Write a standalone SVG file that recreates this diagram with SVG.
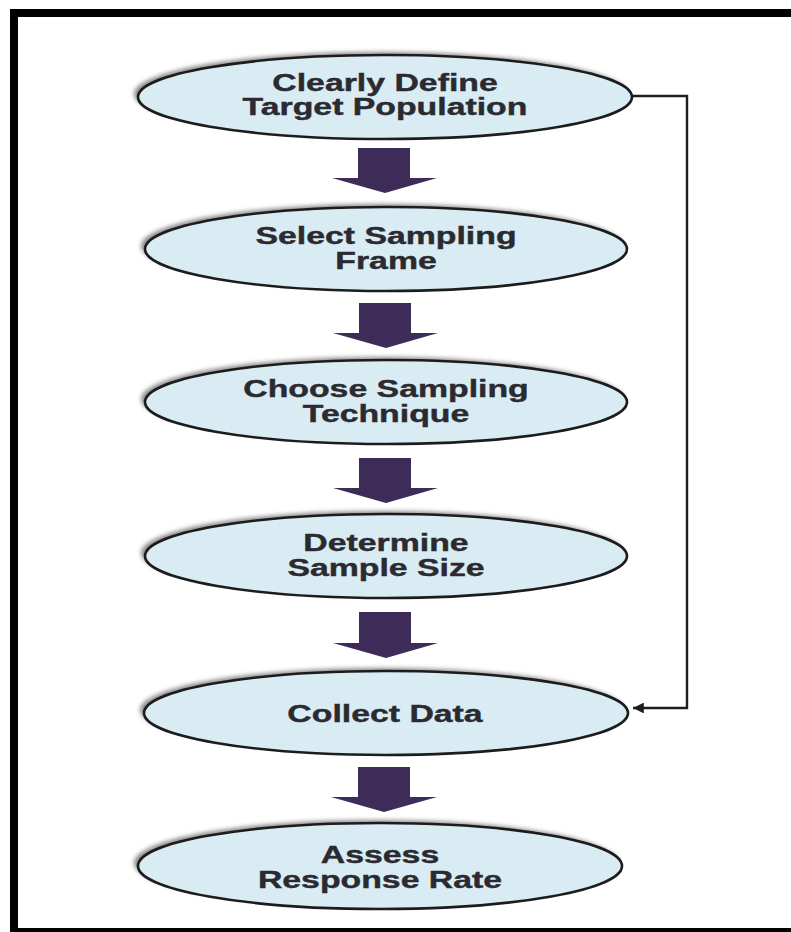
<svg xmlns="http://www.w3.org/2000/svg" width="791" height="932" viewBox="0 0 791 932">
<defs>
<style>
.node{fill:#d9ecf4;stroke:#1c1c1c;stroke-width:2.6}
.shadow{fill:#8a8a8a;filter:url(#blur)}
.lbl{font-family:"Liberation Sans",Arial,sans-serif;font-weight:bold;font-size:23px;fill:#2a2a30;text-anchor:middle;stroke:#2a2a30;stroke-width:0.4}
.barrow{fill:#3d2c58}
.conn{fill:none;stroke:#1e1e1e;stroke-width:2.4}
</style>
<filter id="blur" x="-10%" y="-20%" width="120%" height="140%"><feGaussianBlur stdDeviation="2.2"/></filter>
<marker id="ah" viewBox="0 0 10 10" refX="10" refY="5" markerWidth="5.5" markerHeight="4.5" orient="auto" markerUnits="strokeWidth"><path d="M0,0 L10,5 L0,10 Z" fill="#1e1e1e"/></marker>
</defs>
<rect x="0" y="0" width="791" height="932" fill="#ffffff"/>
<g id="frame" fill="#000">
<rect x="10" y="9" width="781" height="8"/>
<rect x="10" y="9" width="8" height="923"/>
<rect x="10" y="928" width="781" height="4"/>
</g>
<g id="connectors">
<path class="barrow" d="M358,148 H410 V178 H437 L385,193 L332,178 H358 Z"/>
<path class="barrow" d="M359,303 H411 V333 H438 L386,348 L333,333 H359 Z"/>
<path class="barrow" d="M359,458 H411 V488 H438 L386,503 L333,488 H359 Z"/>
<path class="barrow" d="M359,612 H411 V643 H438 L386,658 L333,643 H359 Z"/>
<path class="barrow" d="M358,767 H410 V797 H437 L384,812 L331,797 H358 Z"/>
<path class="conn" d="M632,96 H687 V708 H633" marker-end="url(#ah)"/>
</g>
<g id="n1">
<ellipse class="shadow" cx="381" cy="94" rx="247" ry="42"/>
<ellipse class="node" cx="385" cy="97" rx="247" ry="42"/>
<g transform="translate(385,0) scale(1.47,1)"><text class="lbl" x="0" y="91">Clearly Define</text><text class="lbl" x="0" y="115">Target Population</text></g>
</g>
<g id="n2">
<ellipse class="shadow" cx="382" cy="246" rx="241" ry="42"/>
<ellipse class="node" cx="386" cy="249" rx="241" ry="42"/>
<g transform="translate(386,0) scale(1.47,1)"><text class="lbl" x="0" y="244">Select Sampling</text><text class="lbl" x="0" y="269">Frame</text></g>
</g>
<g id="n3">
<ellipse class="shadow" cx="382" cy="399" rx="241" ry="42"/>
<ellipse class="node" cx="386" cy="402" rx="241" ry="42"/>
<g transform="translate(386,0) scale(1.47,1)"><text class="lbl" x="0" y="397">Choose Sampling</text><text class="lbl" x="0" y="422">Technique</text></g>
</g>
<g id="n4">
<ellipse class="shadow" cx="382" cy="553" rx="241" ry="42"/>
<ellipse class="node" cx="386" cy="556" rx="241" ry="42"/>
<g transform="translate(386,0) scale(1.47,1)"><text class="lbl" x="0" y="551">Determine</text><text class="lbl" x="0" y="576">Sample Size</text></g>
</g>
<g id="n5">
<ellipse class="shadow" cx="382" cy="710" rx="242" ry="42"/>
<ellipse class="node" cx="386" cy="713" rx="242" ry="42"/>
<g transform="translate(385,0) scale(1.47,1)"><text class="lbl" x="0" y="722">Collect Data</text></g>
</g>
<g id="n6">
<ellipse class="shadow" cx="376" cy="863" rx="242" ry="43"/>
<ellipse class="node" cx="380" cy="866" rx="242" ry="43"/>
<g transform="translate(380,0) scale(1.47,1)"><text class="lbl" x="0" y="863">Assess</text><text class="lbl" x="0" y="888">Response Rate</text></g>
</g>
</svg>
